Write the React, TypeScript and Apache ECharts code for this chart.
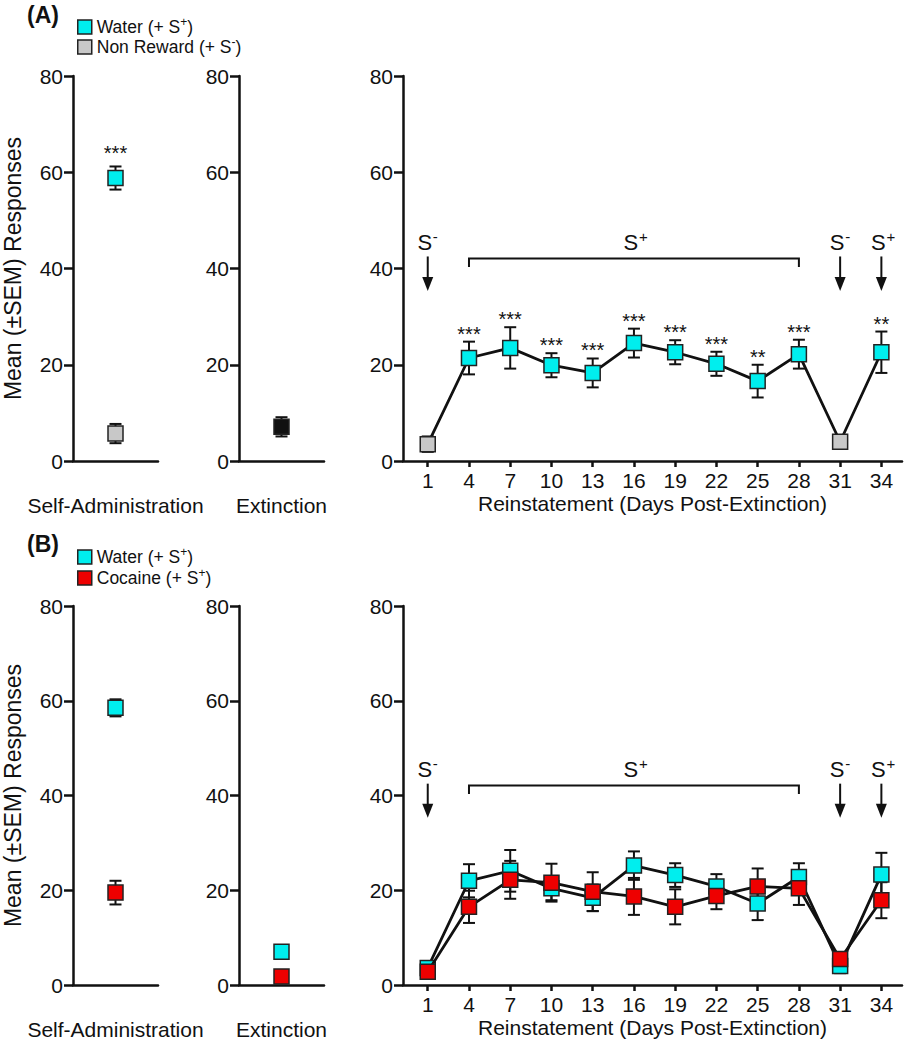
import React, { useEffect, useRef } from 'react';
import * as echarts from 'echarts';

const FONT = "'Liberation Sans', Arial, Helvetica, sans-serif";
const INK = '#111111';
const CYAN = '#00EEEE';
const GRAY = '#C8C8C8';
const RED = '#EE0000';
const BLACK = '#111111';
const BORDER = '#222222';
const TICK_FONT = 21;

// ---------- data ----------
const yTickStep = 20;
const days = [1, 4, 7, 10, 13, 16, 19, 22, 25, 28, 31, 34];
const cueA = ['S-', 'S+', 'S+', 'S+', 'S+', 'S+', 'S+', 'S+', 'S+', 'S+', 'S-', 'S+'];

// Panel A – reinstatement (water group)
const waterA = [3.5, 21.4, 23.5, 19.9, 18.3, 24.5, 22.6, 20.2, 16.6, 22.2, 4.0, 22.6];
const waterASem = [1.6, 3.4, 4.3, 2.5, 3.0, 3.0, 2.5, 2.5, 3.4, 3.0, 1.2, 4.3];
const sigA = ['', '***', '***', '***', '***', '***', '***', '***', '**', '***', '', '**'];

// Panel A – self-administration & extinction
const saCategory = ['Self-Administration'];
const extCategory = ['Extinction'];
const saWaterA = [58.8];
const saWaterASem = [2.4];
const saWaterASig = ['***'];
const saNonRewardA = [5.7];
const saNonRewardASem = [2.0];
const extAllA = [7.1];
const extAllASem = [2.0];

// Panel B – self-administration & extinction
const saWaterB = [58.5];
const saWaterBSem = [1.8];
const saCocaineB = [19.5];
const saCocaineBSem = [2.5];
const extWaterB = [7.0];
const extWaterBSem = [0.4];
const extCocaineB = [1.8];
const extCocaineBSem = [0.4];

// Panel B – reinstatement
const waterB = [3.6, 22.0, 24.1, 20.4, 18.4, 25.2, 23.2, 20.8, 17.2, 22.8, 4.0, 23.3];
const waterBSem = [1.0, 3.5, 4.4, 2.5, 2.8, 3.0, 2.5, 2.6, 3.5, 2.9, 1.5, 4.6];
const cocaineB = [2.8, 16.5, 22.2, 21.6, 19.7, 18.7, 16.5, 18.8, 20.8, 20.4, 5.5, 17.9];
const cocaineBSem = [1.0, 3.4, 4.0, 4.0, 4.1, 3.9, 3.7, 2.8, 3.8, 3.5, 1.0, 3.8];

// cue annotations
const cueArrowDays = [1, 31, 34];
const cueArrowSigns = ['-', '-', '+'];
const bracketDays = [4, 28];
const bracketSign = '+';

// ---------- layout constants ----------
const CUE_LABEL_Y = 45.5;
const ARROW_TOP_Y = 42.5;
const ARROW_BOTTOM_Y = 35.3;
const BRACKET_Y = 42.1;
const BRACKET_END_Y = 40.3;

const panels = [
  { top: 76, height: 385 },
  { top: 606, height: 379 },
];
const cols = [
  { left: 72, width: 86 },
  { left: 239, width: 85 },
  { left: 403, width: 499 },
];

function supFormatter(name: string) {
  const m = name.match(/^(.*S)([+-])(\).*)$/);
  if (!m) return `{n|${name}}`;
  return `{n|${m[1]}}{p|${m[2]}}{n|${m[3]}}`;
}

function errSeries(
  gridIdx: number,
  xs: number[],
  means: number[],
  sems: number[],
  sigs?: string[],
  sigGap = 8
) {
  return {
    type: 'custom',
    xAxisIndex: gridIdx,
    yAxisIndex: gridIdx,
    z: 1,
    silent: true,
    data: xs.map((x, i) => [x, means[i], sems[i]]),
    renderItem: (params: any, api: any) => {
      const x = api.value(0);
      const m = api.value(1);
      const s = api.value(2);
      const top = api.coord([x, m + s]);
      const bot = api.coord([x, m - s]);
      const cw = 6;
      const st = { stroke: INK, lineWidth: 2 };
      const children: any[] = [
        { type: 'line', shape: { x1: top[0], y1: top[1], x2: bot[0], y2: bot[1] }, style: st },
        { type: 'line', shape: { x1: top[0] - cw, y1: top[1], x2: top[0] + cw, y2: top[1] }, style: st },
        { type: 'line', shape: { x1: bot[0] - cw, y1: bot[1], x2: bot[0] + cw, y2: bot[1] }, style: st },
      ];
      const sig = sigs ? sigs[params.dataIndex] : '';
      if (sig) {
        children.push({
          type: 'text',
          x: top[0],
          y: top[1] - sigGap,
          style: {
            text: sig,
            fontSize: 20,
            fontFamily: FONT,
            fill: INK,
            align: 'center',
            verticalAlign: 'middle',
          },
        });
      }
      return { type: 'group', children };
    },
  };
}

function cueLabel(x: number, y: number, sign: string) {
  return [
    {
      type: 'text',
      x: x - 3,
      y,
      style: { text: 'S', fontSize: 22, fontFamily: FONT, fill: INK, align: 'center', verticalAlign: 'middle' },
    },
    {
      type: 'text',
      x: x + 5,
      y: y - 6,
      style: { text: sign, fontSize: 15, fontFamily: FONT, fill: INK, align: 'left', verticalAlign: 'middle' },
    },
  ];
}

function cueSeries(gridIdx: number) {
  return [
    {
      type: 'custom',
      xAxisIndex: gridIdx,
      yAxisIndex: gridIdx,
      z: 5,
      silent: true,
      data: cueArrowDays.map((d) => [d, CUE_LABEL_Y]),
      renderItem: (params: any, api: any) => {
        const d = api.value(0);
        const sign = cueArrowSigns[params.dataIndex];
        const [lx, ly] = api.coord([d, CUE_LABEL_Y]);
        const yTop = api.coord([d, ARROW_TOP_Y])[1];
        const yBot = api.coord([d, ARROW_BOTTOM_Y])[1];
        return {
          type: 'group',
          children: [
            ...cueLabel(lx, ly, sign),
            { type: 'line', shape: { x1: lx, y1: yTop, x2: lx, y2: yBot - 10 }, style: { stroke: INK, lineWidth: 2 } },
            {
              type: 'polygon',
              shape: { points: [[lx - 5.5, yBot - 14], [lx + 5.5, yBot - 14], [lx, yBot]] },
              style: { fill: INK },
            },
          ],
        };
      },
    },
    {
      type: 'custom',
      xAxisIndex: gridIdx,
      yAxisIndex: gridIdx,
      z: 5,
      silent: true,
      data: [[bracketDays[0], bracketDays[1]]],
      encode: { x: [0, 1] },
      renderItem: (params: any, api: any) => {
        const d0 = api.value(0);
        const d1 = api.value(1);
        const a = api.coord([d0, BRACKET_END_Y]);
        const b = api.coord([d0, BRACKET_Y]);
        const c = api.coord([d1, BRACKET_Y]);
        const e = api.coord([d1, BRACKET_END_Y]);
        const lab = api.coord([(d0 + d1) / 2, CUE_LABEL_Y]);
        return {
          type: 'group',
          children: [
            {
              type: 'polyline',
              shape: { points: [a, b, c, e] },
              style: { stroke: INK, lineWidth: 2, fill: 'none' },
            },
            ...cueLabel(lab[0], lab[1], bracketSign),
          ],
        };
      },
    },
  ];
}

function buildOption() {
  const grids: any[] = [];
  const xAxes: any[] = [];
  const yAxes: any[] = [];
  const axisLine = { show: true, onZero: false, lineStyle: { color: INK, width: 2.5 } };
  panels.forEach((p, pi) => {
    cols.forEach((c, ci) => {
      grids.push({ left: c.left, width: c.width, top: p.top, height: p.height });
      const gi = pi * 3 + ci;
      yAxes.push({
        type: 'value',
        gridIndex: gi,
        min: 0,
        max: 80,
        interval: yTickStep,
        axisLine,
        axisTick: { show: true, length: 9, lineStyle: { color: INK, width: 2.5 } },
        axisLabel: { fontSize: TICK_FONT, fontFamily: FONT, color: INK, margin: 10 },
        splitLine: { show: false },
        ...(ci === 0
          ? {
              name: 'Mean (±SEM) Responses',
              nameLocation: 'middle',
              nameGap: 49,
              nameTextStyle: { fontSize: 23, fontFamily: FONT, color: INK },
            }
          : {}),
      });
      if (ci < 2) {
        xAxes.push({
          type: 'category',
          gridIndex: gi,
          data: ci === 0 ? saCategory : extCategory,
          axisLine,
          axisTick: { show: false },
          axisLabel: { fontSize: TICK_FONT, fontFamily: FONT, color: INK, margin: 34, interval: 0 },
          splitLine: { show: false },
        });
      } else {
        xAxes.push({
          type: 'value',
          gridIndex: gi,
          min: -0.8,
          max: 35.5,
          axisLine,
          axisTick: { show: true, length: 6, customValues: days, lineStyle: { color: INK, width: 2.5 } },
          axisLabel: { fontSize: TICK_FONT, fontFamily: FONT, color: INK, margin: 9, customValues: days },
          splitLine: { show: false },
          name: 'Reinstatement (Days Post-Extinction)',
          nameLocation: 'middle',
          nameGap: 32,
          nameTextStyle: { fontSize: TICK_FONT, fontFamily: FONT, color: INK },
        });
      }
    });
  });

  const marker = (color: string) => ({ color, borderColor: BORDER, borderWidth: 1.5, opacity: 1 });
  const scatter = (name: string, gi: number, vals: number[], color: string) => ({
    type: 'scatter',
    name,
    xAxisIndex: gi,
    yAxisIndex: gi,
    z: 3,
    silent: true,
    symbol: 'rect',
    symbolSize: 15,
    itemStyle: marker(color),
    data: vals.map((v, i) => [i, v]),
  });
  const line = (name: string, gi: number, vals: number[], color: string, z: number, colorOf?: (i: number) => string) => ({
    type: 'line',
    name,
    xAxisIndex: gi,
    yAxisIndex: gi,
    z,
    silent: true,
    symbol: 'rect',
    symbolSize: 15,
    showSymbol: true,
    lineStyle: { color: INK, width: 2.8 },
    itemStyle: marker(color),
    data: days.map((d, i) => ({
      value: [d, vals[i]],
      itemStyle: colorOf ? { color: colorOf(i) } : undefined,
    })),
  });

  const series: any[] = [
    // Panel A
    errSeries(0, [0], saWaterA, saWaterASem, saWaterASig, 13),
    errSeries(0, [0], saNonRewardA, saNonRewardASem),
    scatter('Water (+ S+)', 0, saWaterA, CYAN),
    scatter('Non Reward (+ S-)', 0, saNonRewardA, GRAY),
    errSeries(1, [0], extAllA, extAllASem),
    scatter('Extinction (all)', 1, extAllA, BLACK),
    errSeries(2, days, waterA, waterASem, sigA),
    line('Water (+ S+)', 2, waterA, CYAN, 3, (i) => (cueA[i] === 'S-' ? GRAY : CYAN)),
    ...cueSeries(2),
    // Panel B
    errSeries(3, [0], saWaterB, saWaterBSem),
    errSeries(3, [0], saCocaineB, saCocaineBSem),
    scatter('Water (+ S+)', 3, saWaterB, CYAN),
    scatter('Cocaine (+ S+)', 3, saCocaineB, RED),
    errSeries(4, [0], extWaterB, extWaterBSem),
    errSeries(4, [0], extCocaineB, extCocaineBSem),
    scatter('Water (+ S+)', 4, extWaterB, CYAN),
    scatter('Cocaine (+ S+)', 4, extCocaineB, RED),
    errSeries(5, days, waterB, waterBSem),
    errSeries(5, days, cocaineB, cocaineBSem),
    line('Water (+ S+)', 5, waterB, CYAN, 3),
    line('Cocaine (+ S+)', 5, cocaineB, RED, 4),
    ...cueSeries(5),
  ];

  const legendCommon = {
    orient: 'vertical',
    left: 77,
    icon: 'rect',
    itemWidth: 14,
    itemHeight: 14,
    selectedMode: false,
    padding: 0,
    itemStyle: { borderColor: BORDER, borderWidth: 1.5 },
    formatter: supFormatter,
    textStyle: {
      fontSize: 17,
      fontFamily: FONT,
      color: INK,
      rich: {
        n: { fontSize: 17.5, fontFamily: FONT, color: INK, lineHeight: 22 },
        p: { fontSize: 12, fontFamily: FONT, color: INK, verticalAlign: 'top' },
      },
    },
  };

  return {
    animation: false,
    backgroundColor: '#ffffff',
    textStyle: { fontFamily: FONT },
    grid: grids,
    xAxis: xAxes,
    yAxis: yAxes,
    legend: [
      { ...legendCommon, top: 16, itemGap: 0, data: ['Water (+ S+)', 'Non Reward (+ S-)'] },
      { ...legendCommon, top: 546, itemGap: 1, data: ['Water (+ S+)', 'Cocaine (+ S+)'] },
    ],
    graphic: [
      {
        type: 'text',
        left: 27,
        top: 3,
        style: { text: '(A)', fontSize: 23, fontWeight: 'bold', fontFamily: FONT, fill: INK },
      },
      {
        type: 'text',
        left: 27,
        top: 532,
        style: { text: '(B)', fontSize: 23, fontWeight: 'bold', fontFamily: FONT, fill: INK },
      },
    ],
    series,
  };
}

export default function App() {
  const ref = useRef<HTMLDivElement>(null);
  useEffect(() => {
    document.body.style.margin = '0';
    const chart = echarts.init(ref.current as HTMLDivElement, null, { renderer: 'svg' });
    chart.setOption(buildOption() as any);
    return () => chart.dispose();
  }, []);
  return <div ref={ref} style={{ width: 908, height: 1050, background: '#fff' }} />;
}
